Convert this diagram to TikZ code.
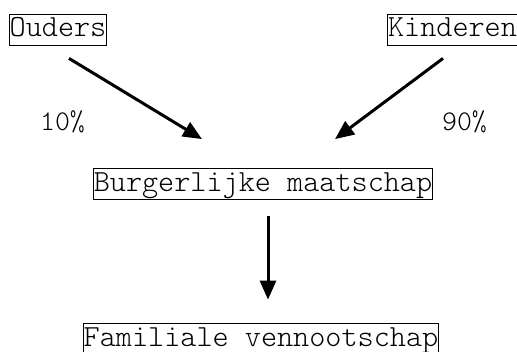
\documentclass[tikz,border=0pt]{standalone}
\usepackage{fontspec}
\newfontfamily\boxfont{Latin Modern Mono Light}
\usetikzlibrary{arrows.meta}

\tikzset{
	entity/.style={draw, line width=0.8pt, inner xsep=0.5pt, inner ysep=1pt,
		text height=22pt, text depth=7pt, font=\boxfont\fontsize{30.7}{34}\selectfont},
	share/.style={font=\boxfont\fontsize{28.5}{32}\selectfont},
	flow/.style={line width=3pt, -{Triangle[length=19pt,width=16pt]}}
}

\begin{document}
\begin{tikzpicture}[x=1pt, y=1pt]
	\useasboundingbox (0,0) rectangle (517,351);

	\node[entity] (ouders) at (58,321.5) {Ouders};
	\node[entity] (kinderen) at (452.5,321.5) {Kinderen};
	\node[entity] (burg) at (263,167) {Burgerlijke maatschap};
	\node[entity] (fam) at (261,12.5) {Familiale vennootschap};

	\draw[flow] ([shift={(11,-13)}]ouders.south) -- ([shift={(-61,29)}]burg.north);
	\draw[flow] ([shift={(-9.5,-13)}]kinderen.south) -- ([shift={(72,29)}]burg.north);
	\draw[flow] ([shift={(5,-16)}]burg.south) -- ([shift={(7,23)}]fam.north);

	\node[share] (pouders) at (62.5,229) {10\%};
	\node[share] (pkinderen) at (464.5,229) {90\%};
\end{tikzpicture}
\end{document}
